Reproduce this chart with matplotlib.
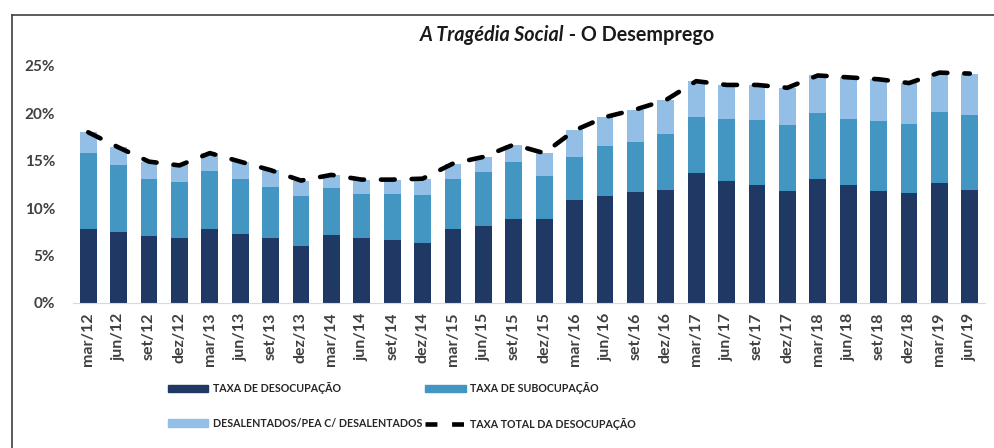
import matplotlib.pyplot as plt
import matplotlib
from matplotlib.patches import Patch
from matplotlib.lines import Line2D
import numpy as np

matplotlib.rcParams['font.family'] = ['Lato', 'DejaVu Sans']

trimestres = ['mar/12', 'jun/12', 'set/12', 'dez/12',
              'mar/13', 'jun/13', 'set/13', 'dez/13',
              'mar/14', 'jun/14', 'set/14', 'dez/14',
              'mar/15', 'jun/15', 'set/15', 'dez/15',
              'mar/16', 'jun/16', 'set/16', 'dez/16',
              'mar/17', 'jun/17', 'set/17', 'dez/17',
              'mar/18', 'jun/18', 'set/18', 'dez/18',
              'mar/19', 'jun/19']

# taxa de desocupacao (%)
desocupacao = [7.8, 7.5, 7.0, 6.8, 7.8, 7.3, 6.8, 6.0, 7.1, 6.8, 6.6, 6.3,
               7.8, 8.1, 8.8, 8.8, 10.8, 11.3, 11.7, 11.9, 13.7, 12.9,
               12.4, 11.8, 13.1, 12.4, 11.8, 11.6, 12.6, 11.9]
# taxa de subocupacao (%)
subocupacao = [8.0, 7.0, 6.1, 5.9, 6.1, 5.8, 5.4, 5.3, 5.0, 4.7, 4.9, 5.1,
               5.3, 5.7, 6.1, 4.6, 4.6, 5.2, 5.3, 5.9, 5.9, 6.5,
               6.9, 7.0, 6.9, 7.0, 7.4, 7.3, 7.5, 7.9]
# desalentados / PEA c/ desalentados (%)
desalentados = [2.2, 1.9, 1.8, 1.8, 1.9, 1.8, 1.8, 1.6, 1.4, 1.5, 1.5, 1.7,
                1.6, 1.6, 1.8, 2.4, 2.8, 3.1, 3.4, 3.6, 3.8, 3.6,
                3.7, 3.9, 4.0, 4.4, 4.4, 4.3, 4.2, 4.4]

total = np.array(desocupacao) + np.array(subocupacao) + np.array(desalentados)

c_deso = '#203864'
c_sub = '#4396c2'
c_desal = '#93bee5'
c_txt = '#404040'

fig = plt.figure(figsize=(9.95, 4.48), dpi=100)
ax = fig.add_axes([73/995, 1 - 302.7/448, 912/995, (302.7 - 66)/448])

x = np.arange(len(trimestres))
w = 0.55
ax.bar(x, desocupacao, w, color=c_deso)
ax.bar(x, subocupacao, w, bottom=desocupacao, color=c_sub)
ax.bar(x, desalentados, w, bottom=np.array(desocupacao) + np.array(subocupacao), color=c_desal)
ax.plot(x, total, color='black', lw=3.3, linestyle=(0, (3.0, 3.7)),
        dash_capstyle='round', clip_on=False, zorder=5)

ax.set_xlim(-0.5, len(trimestres) - 0.5)
ax.set_ylim(0, 25)
ax.set_yticks([0, 5, 10, 15, 20, 25])
ax.set_yticklabels(['0%', '5%', '10%', '15%', '20%', '25%'])
ax.set_xticks(x)
ax.set_xticklabels(trimestres, rotation=90)
ax.tick_params(axis='y', length=0, pad=13, labelsize=11, labelcolor=c_txt)
ax.tick_params(axis='x', length=0, pad=7, labelsize=11.5, labelcolor=c_txt)
for t in ax.get_xticklabels() + ax.get_yticklabels():
    t.set_fontweight('bold')
for s in ['top', 'right', 'left']:
    ax.spines[s].set_visible(False)
ax.spines['bottom'].set_color('#d9d9d9')

# titulo
fig.text(564/995, 1 - 35/448, 'A Tragédia Social', style='italic', fontweight='bold',
         fontsize=14.2, ha='right', va='center', color='#1a1a1a')
fig.text(564/995, 1 - 35/448, ' - O Desemprego', fontweight='bold',
         fontsize=14.2, ha='left', va='center', color='#1a1a1a')

# moldura
fig.add_artist(Line2D([12/995, 1], [1 - 15/448, 1 - 15/448], color='#404040', lw=1.2))
fig.add_artist(Line2D([12/995, 12/995], [0, 1 - 15/448], color='#404040', lw=1.2))

handles = [Patch(color=c_deso), Patch(color=c_desal), Patch(color=c_sub),
           Line2D([], [], color='black', lw=3.3, linestyle=(0, (2.6, 3.2)))]
labels = ['TAXA DE DESOCUPAÇÃO', 'DESALENTADOS/PEA C/ DESALENTADOS',
          'TAXA DE SUBOCUPAÇÃO', 'TAXA TOTAL DA DESOCUPAÇÃO']
leg = fig.legend(handles, labels, ncol=2, loc='center left',
                 bbox_to_anchor=(158/995, 1 - 406/448),
                 frameon=False, handlelength=3.8, handleheight=0.75, handletextpad=0.4,
                 columnspacing=0.3, labelspacing=2.2,
                 prop={'size': 7.7, 'weight': 'bold'})
for t in leg.get_texts():
    t.set_color('#262626')

fig.savefig('out.png', dpi=100)
